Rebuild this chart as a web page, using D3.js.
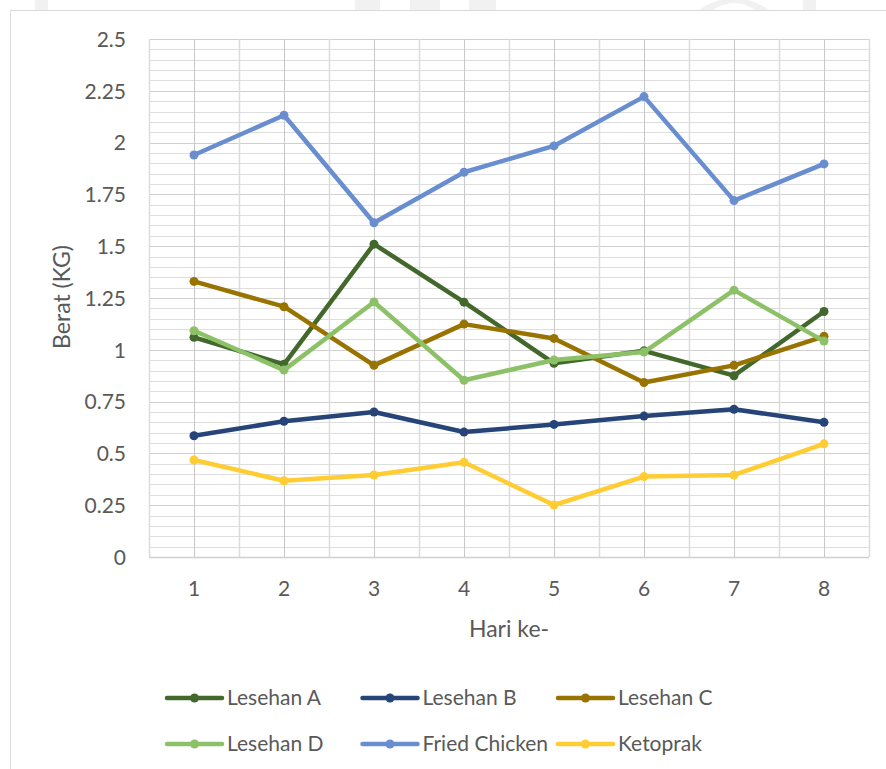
<!DOCTYPE html>
<html>
<head>
<meta charset="utf-8">
<script src="https://cdn.jsdelivr.net/npm/d3@7"></script>
<style>
  html, body { margin: 0; padding: 0; background: #ffffff; }
  svg { display: block; }
  text { font-family: Lato, "Open Sans", sans-serif; fill: #595959; }
</style>
</head>
<body>
<svg id="chart" width="886" height="769"></svg>
<script>
// ---- data ----
const days = ["1", "2", "3", "4", "5", "6", "7", "8"];
const lesehanA = [1.06, 0.93, 1.51, 1.23, 0.935, 0.995, 0.875, 1.185];
const lesehanB = [0.585, 0.655, 0.70, 0.603, 0.64, 0.68, 0.713, 0.65];
const lesehanC = [1.33, 1.208, 0.925, 1.124, 1.055, 0.842, 0.925, 1.065];
const lesehanD = [1.092, 0.902, 1.231, 0.853, 0.951, 0.989, 1.288, 1.042];
const friedChicken = [1.94, 2.132, 1.613, 1.857, 1.984, 2.222, 1.72, 1.897];
const ketoprak = [0.468, 0.368, 0.396, 0.457, 0.251, 0.388, 0.396, 0.546];
const seriesNames = ["Lesehan A", "Lesehan B", "Lesehan C", "Lesehan D", "Fried Chicken", "Ketoprak"];
const seriesColors = ["#43682B", "#264478", "#997300", "#8CC168", "#698ED0", "#FFCD33"];
const yTicks = [0, 0.25, 0.5, 0.75, 1, 1.25, 1.5, 1.75, 2, 2.25, 2.5];
const yTitle = "Berat (KG)";
const xTitle = "Hari ke-";

const seriesValues = [lesehanA, lesehanB, lesehanC, lesehanD, friedChicken, ketoprak];
const series = seriesNames.map((n, i) => ({ name: n, color: seriesColors[i], values: seriesValues[i] }));

const svg = d3.select("#chart");

// faint watermark fragments at the very top (background image)
const wm = svg.append("g").attr("fill", "#f1f1f1");
[[35, 13], [355, 25], [410, 30], [469, 27], [803, 13]].forEach(([x, w]) =>
  wm.append("rect").attr("x", x).attr("y", 0).attr("width", w).attr("height", 10));
wm.append("path").attr("d", "M699,10 Q734,-14 769,10 L755,10 Q734,-4 713,10 Z");

// chart area border
svg.append("rect").attr("x", 10.5).attr("y", 10.5).attr("width", 900).attr("height", 800)
  .attr("fill", "#ffffff").attr("stroke", "#d9d9d9").attr("stroke-width", 1);

// scales
const plot = { left: 149, right: 869, top: 39, bottom: 557 };
const x = d3.scaleBand().domain(days).range([plot.left, plot.right]).paddingInner(0).paddingOuter(0);
const y = d3.scaleLinear().domain([0, 2.5]).range([plot.bottom, plot.top]);
const cx = d => x(d) + x.bandwidth() / 2;

// gridlines
const grid = svg.append("g");
const minorTicks = d3.range(0, 2.5001, 0.05);
grid.selectAll("line.hminor").data(minorTicks).join("line")
  .attr("x1", plot.left).attr("x2", plot.right)
  .attr("y1", d => Math.round(y(d)) + 0.5).attr("y2", d => Math.round(y(d)) + 0.5)
  .attr("stroke", "#dedede").attr("stroke-width", 1);
grid.selectAll("line.hmajor").data(yTicks).join("line")
  .attr("x1", plot.left).attr("x2", plot.right)
  .attr("y1", d => Math.round(y(d)) + 0.5).attr("y2", d => Math.round(y(d)) + 0.5)
  .attr("stroke", "#d0d0d0").attr("stroke-width", 1);
// vertical: band boundaries (lighter) and category centers (darker)
const bounds = days.map(d => x(d)).concat([plot.right]);
grid.selectAll("line.vb").data(bounds).join("line")
  .attr("x1", d => Math.round(d) + 0.5).attr("x2", d => Math.round(d) + 0.5)
  .attr("y1", plot.top).attr("y2", plot.bottom)
  .attr("stroke", "#dcdcdc").attr("stroke-width", 1.5);
grid.selectAll("line.vc").data(days).join("line")
  .attr("x1", d => Math.round(cx(d)) + 0.5).attr("x2", d => Math.round(cx(d)) + 0.5)
  .attr("y1", plot.top).attr("y2", plot.bottom)
  .attr("stroke", "#c8c8c8").attr("stroke-width", 1);
// axis baseline
grid.append("line").attr("x1", plot.left).attr("x2", plot.right)
  .attr("y1", plot.bottom + 0.5).attr("y2", plot.bottom + 0.5)
  .attr("stroke", "#d0d0d0").attr("stroke-width", 1.5);

// y axis labels
const yAxis = d3.axisLeft(y).tickValues(yTicks).tickSize(0).tickPadding(0).tickFormat(d3.format("~g"));
const yg = svg.append("g").attr("transform", `translate(126,0)`).call(yAxis);
yg.select(".domain").remove();
yg.selectAll("text").attr("font-size", 21).attr("fill", "#595959")
  .style("font-family", "Lato, sans-serif").attr("dy", "0.35em");

// x axis labels
const xAxis = d3.axisBottom(x).tickSize(0).tickPadding(0);
const xg = svg.append("g").attr("transform", `translate(0,589)`).call(xAxis);
xg.select(".domain").remove();
xg.selectAll("text").attr("font-size", 21).attr("fill", "#595959")
  .style("font-family", "Lato, sans-serif").attr("dy", "0.35em");

// axis titles
svg.append("text").attr("transform", "translate(62,297) rotate(-90)")
  .attr("text-anchor", "middle").attr("dy", "0.35em").attr("font-size", 23).text(yTitle);
svg.append("text").attr("x", 509).attr("y", 629)
  .attr("text-anchor", "middle").attr("dy", "0.35em").attr("font-size", 23).text(xTitle);

// lines and markers
const line = d3.line().x((v, i) => cx(days[i])).y(v => y(v));
const sg = svg.append("g");
series.forEach(s => {
  const g = sg.append("g");
  g.append("path").attr("d", line(s.values)).attr("fill", "none")
    .attr("stroke", s.color).attr("stroke-width", 4.5)
    .attr("stroke-linejoin", "round").attr("stroke-linecap", "round");
  g.selectAll("circle").data(s.values).join("circle")
    .attr("cx", (v, i) => cx(days[i])).attr("cy", v => y(v)).attr("r", 4.5)
    .attr("fill", s.color);
});

// legend
const legend = svg.append("g");
const legX0 = 167, legDX = 195.5, legY0 = 698, legDY = 46;
series.forEach((s, i) => {
  const col = i % 3, row = Math.floor(i / 3);
  const lx = legX0 + col * legDX, ly = legY0 + row * legDY;
  const g = legend.append("g").attr("transform", `translate(${lx},${ly})`);
  g.append("line").attr("x1", 0).attr("x2", 55).attr("y1", 0).attr("y2", 0)
    .attr("stroke", s.color).attr("stroke-width", 4.5).attr("stroke-linecap", "round");
  g.append("circle").attr("cx", 27.5).attr("cy", 0).attr("r", 4.5).attr("fill", s.color);
  g.append("text").attr("x", 60).attr("y", 0).attr("dy", "0.35em")
    .attr("font-size", 21).text(s.name);
});
</script>
</body>
</html>
